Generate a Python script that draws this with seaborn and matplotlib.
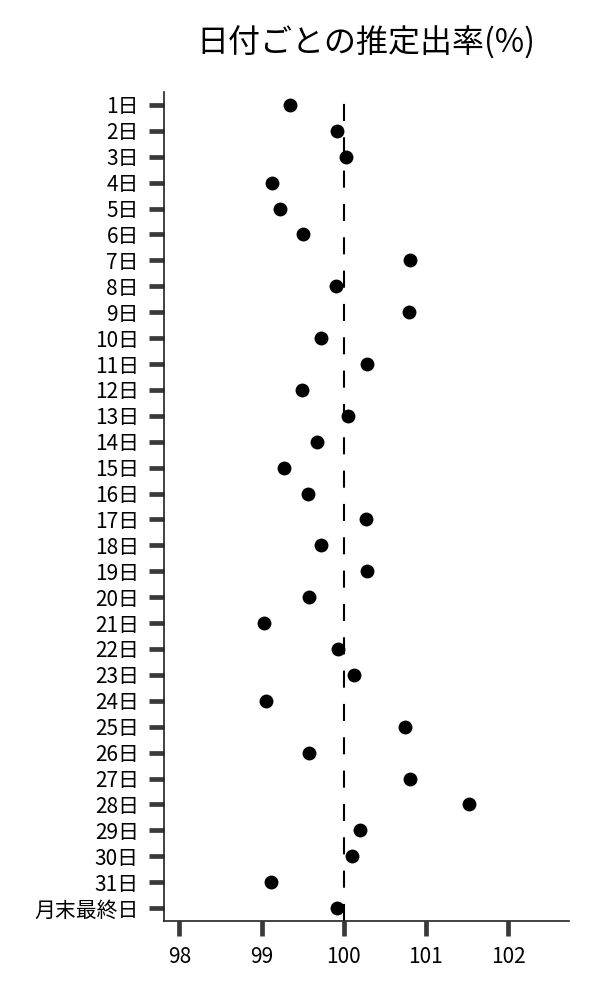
import pandas as pd
import matplotlib
matplotlib.use("Agg")
import matplotlib.pyplot as plt
import seaborn as sns

# 日付ごとの推定出率
days = [f"{i}日" for i in range(1, 32)] + ["月末最終日"]
rates = [99.35, 99.92, 100.03, 99.13, 99.23, 99.50, 100.81, 99.91,
         100.80, 99.72, 100.28, 99.49, 100.05, 99.68, 99.27, 99.56,
         100.27, 99.72, 100.28, 99.58, 99.03, 99.93, 100.13, 99.05,
         100.75, 99.58, 100.81, 101.52, 100.20, 100.10, 99.12, 99.92]
xticks = [98, 99, 100, 101, 102]

df = pd.DataFrame({"day": days, "rate": rates})

sns.set_style("white")
plt.rcParams['font.family'] = ['Noto Sans CJK JP', 'DejaVu Sans']
plt.rcParams['text.color'] = 'black'
plt.rcParams['xtick.color'] = 'black'
plt.rcParams['ytick.color'] = 'black'

fig = plt.figure(figsize=(6, 10), dpi=100)
ax = fig.add_axes([0.273, 0.079, 0.675, 0.829])

sns.stripplot(data=df, x="rate", y="day", order=days, jitter=False,
              color="black", size=10, ax=ax)
# 100% の基準線
ax.axvline(100, color="black", lw=1.5, dashes=(8.2, 7.8))

ax.set_xlim(97.81, 102.74)
ax.set_xticks(xticks)
ax.set_xlabel("")
ax.set_ylabel("")
ax.set_title("日付ごとの推定出率(%)", fontsize=23, pad=28)

sns.despine(ax=ax)
for s in ["left", "bottom"]:
    ax.spines[s].set_color("#222222")
    ax.spines[s].set_linewidth(1.2)
ax.tick_params(axis="both", bottom=True, left=True, length=11, width=3.4,
               color="#3a3a3a", labelcolor="black", labelsize=15, pad=7)

fig.savefig("out.png", dpi=100)
